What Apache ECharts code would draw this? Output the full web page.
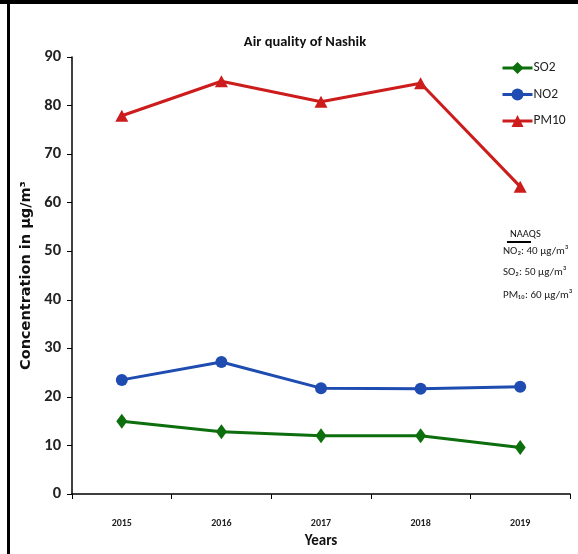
<!DOCTYPE html>
<html><head><meta charset="utf-8">
<script src="https://cdn.jsdelivr.net/npm/echarts@6/dist/echarts.min.js"></script>
<style>html,body{margin:0;padding:0;background:#fff}#c{width:578px;height:554px}</style>
</head><body><div id="c"></div>
<script>
const years = ['2015','2016','2017','2018','2019'];
const so2 = [15, 12.8, 12, 12, 9.6];
const no2 = [23.5, 27.2, 21.8, 21.7, 22.1];
const pm10 = [77.9, 85, 80.8, 84.6, 63.3];
const yTicks = {min:0, max:90, interval:10};
const naaqs = ['NO\u2082: 40 \u03bcg/m\u00b3','SO\u2082: 50 \u03bcg/m\u00b3','PM\u2081\u2080: 60 \u03bcg/m\u00b3'];

const CAL = "Carlito,'Liberation Sans',sans-serif";
const chart = echarts.init(document.getElementById('c'));
chart.setOption({
  animation:false,
  backgroundColor:'#fff',
  title:{text:'Air quality of Nashik', left:300, textAlign:'center', top:30,
    textStyle:{fontFamily:CAL, fontSize:14.5, fontWeight:'bold', color:'#111'}},
  legend:{orient:'vertical', left:496, top:56, itemWidth:30, itemHeight:15, itemGap:12.5,
    lineStyle:{width:3},
    textStyle:{fontFamily:CAL, fontSize:13.5, color:'#222', padding:[0,0,0,-4]},
    data:['SO2','NO2','PM10']},
  grid:{left:72, right:8, top:57, bottom:53, containLabel:false},
  xAxis:{type:'category', data:years, boundaryGap:true,
    name:'Years', nameLocation:'middle', nameGap:40,
    nameTextStyle:{fontFamily:CAL, fontSize:15, fontWeight:'bold', color:'#111'},
    axisLine:{lineStyle:{color:'#000', width:1.5}},
    axisTick:{show:true, inside:false, length:5, lineStyle:{color:'#000'}},
    axisLabel:{fontFamily:CAL, fontSize:10, fontWeight:'bold', color:'#222', margin:24},
    splitLine:{show:false}},
  yAxis:{type:'value', min:yTicks.min, max:yTicks.max, interval:yTicks.interval,
    name:'Concentration in \u03bcg/m\u00b3', nameLocation:'middle', nameGap:36, nameRotate:90,
    nameTextStyle:{fontFamily:"'DejaVu Sans',sans-serif", fontSize:14.5, fontWeight:'bold', color:'#111'},
    axisLine:{show:true, lineStyle:{color:'#000', width:1.5}},
    axisTick:{show:true, length:5, lineStyle:{color:'#000'}},
    axisLabel:{fontFamily:CAL, fontSize:16.5, fontWeight:'bold', color:'#222', margin:11},
    splitLine:{show:false}},
  series:[
    {name:'SO2', type:'line', data:so2, symbol:'diamond', symbolSize:[11,15],
      lineStyle:{width:3, color:'#0c6e0c'}, itemStyle:{color:'#0c6e0c'}},
    {name:'NO2', type:'line', data:no2, symbol:'circle', symbolSize:12,
      lineStyle:{width:3, color:'#1f4cb0'}, itemStyle:{color:'#1f4cb0'}},
    {name:'PM10', type:'line', data:pm10, symbol:'triangle', symbolSize:[13,12],
      lineStyle:{width:3, color:'#cc1c1c'}, itemStyle:{color:'#cc1c1c'}}
  ],
  graphic:[
    {type:'rect', shape:{x:0,y:0,width:578,height:4}, style:{fill:'#000'}},
    {type:'rect', shape:{x:7,y:0,width:3,height:554}, style:{fill:'#000'}},
    {type:'text', left:510, top:229, style:{text:'NAAQS', fontFamily:CAL, fontSize:10.5, fill:'#111'}},
    {type:'rect', shape:{x:507,y:241,width:24,height:2}, style:{fill:'#000'}},
    {type:'text', left:503, top:246, style:{text:naaqs[0], fontFamily:CAL, fontSize:11, fill:'#222'}},
    {type:'text', left:503, top:267, style:{text:naaqs[1], fontFamily:CAL, fontSize:11, fill:'#222'}},
    {type:'text', left:503, top:290, style:{text:naaqs[2], fontFamily:CAL, fontSize:11, fill:'#222'}}
  ]
});
</script></body></html>
